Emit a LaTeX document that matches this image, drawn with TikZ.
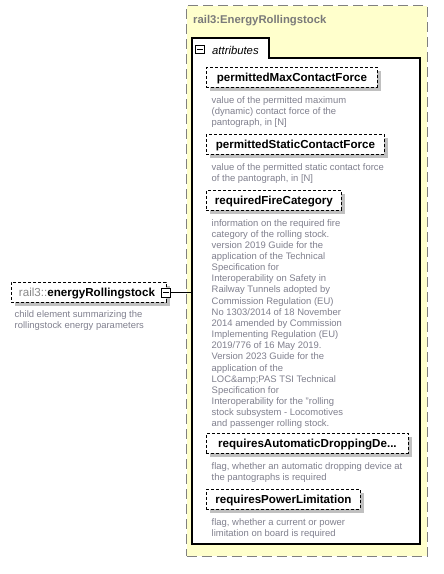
\documentclass[tikz,border=0pt]{standalone}
\usepackage{fontspec}
\setmainfont{Liberation Sans}
\usetikzlibrary{shadows}
\definecolor{typefill}{HTML}{FFFFCC}
\definecolor{typeborder}{HTML}{808080}
\definecolor{typetitle}{HTML}{7A7A7A}
\definecolor{desccolor}{HTML}{80808E}
\definecolor{prefixgray}{HTML}{888888}
\definecolor{shadowgray}{HTML}{C0C0C0}
\begin{document}
\begin{tikzpicture}[x=1pt,y=-1pt,
  typebox/.style={draw=typeborder, fill=typefill, line width=1.3pt,
    dash pattern=on 10pt off 5pt, inner sep=0pt, anchor=north west},
  elembox/.style={draw=black, fill=white, line width=0.9pt,
    dash pattern=on 3pt off 2pt, inner sep=0pt, anchor=north west,
    minimum height=19.5pt,
    drop shadow={shadow xshift=4pt, shadow yshift=-4pt, fill=shadowgray, opacity=1},
    font=\fontsize{11.6}{13}\selectfont\bfseries, text height=9pt, text depth=0pt},
  desc/.style={anchor=north west, inner sep=0pt, align=left, text=desccolor,
    font=\fontsize{9.45}{11.15}\selectfont},
  togglebox/.style={draw=black, fill=white, line width=0.8pt, inner sep=0pt,
    minimum size=8.5pt},
  minusbar/.style={draw=black, line width=0.8pt},
  link/.style={draw=black, line width=0.9pt}]
\useasboundingbox (0,0) rectangle (444,574);

% complex type container
\node[typebox, minimum width=240.5pt, minimum height=550.5pt] (type) at (186,5) {};
\node[anchor=base west, inner sep=0pt, text=typetitle,
      font=\fontsize{11.3}{13}\selectfont\bfseries] (typetitle) at (193,23.5) {rail3:EnergyRollingstock};

% attributes group with its tab
\draw[black, line width=1.1pt, fill=white]
  (192,38) -- (269,38) -- (269,58) -- (420,58) -- (420,544) -- (192,544) -- cycle;
\coordinate (attrleft) at (192,292.5);
\node[togglebox] (tabicon) at (200,49.5) {};
\draw[minusbar] ([xshift=1.8pt]tabicon.west) -- ([xshift=-1.8pt]tabicon.east);
\node[anchor=base west, inner sep=0pt,
      font=\fontsize{11.3}{13}\selectfont\itshape] (tabtext) at (212,54) {attributes};

% attributes
\node[elembox, minimum width=171pt] (a1) at (206,67) {permittedMaxContactForce};
\node[desc] (d1) at (211.5,96) {value of the permitted maximum\\(dynamic) contact force of the\\pantograph, in [N]};

\node[elembox, minimum width=178pt] (a2) at (206,134) {permittedStaticContactForce};
\node[desc] (d2) at (211.5,163) {value of the permitted static contact force\\of the pantograph, in [N]};

\node[elembox, minimum width=135pt] (a3) at (206,190) {requiredFireCategory};
\node[desc] (d3) at (211.5,219) {information on the required fire\\category of the rolling stock.\\version 2019 Guide for the\\application of the Technical\\Specification for\\Interoperability on Safety in\\Railway Tunnels adopted by\\Commission Regulation (EU)\\No 1303/2014 of 18 November\\2014 amended by Commission\\Implementing Regulation (EU)\\2019/776 of 16 May 2019.\\Version 2023 Guide for the\\application of the\\LOC\&amp;PAS TSI Technical\\Specification for\\Interoperability for the "rolling\\stock subsystem - Locomotives\\and passenger rolling stock.};

\node[elembox, minimum width=202pt] (a4) at (206,433) {requiresAutomaticDroppingDe...};
\node[desc] (d4) at (211.5,462) {flag, whether an automatic dropping device at\\the pantographs is required};

\node[elembox, minimum width=154pt] (a5) at (206,489) {requiresPowerLimitation};
\node[desc] (d5) at (211.5,518) {flag, whether a current or power\\limitation on board is required};

% parent element
\node[elembox, minimum width=155pt, minimum height=20pt] (elem) at (11,282)
  {{\mdseries\color{prefixgray}rail3::}energyRollingstock\hspace*{4pt}};
\node[desc] (delem) at (14.5,310) {child element summarizing the\\rollingstock energy parameters};
\node[togglebox, minimum size=9pt] (elemicon) at (166,292.5) {};
\draw[minusbar] ([xshift=1.8pt]elemicon.west) -- ([xshift=-1.8pt]elemicon.east);
\draw[link] (elemicon.east) -- (elemicon.east -| attrleft);
\end{tikzpicture}
\end{document}
